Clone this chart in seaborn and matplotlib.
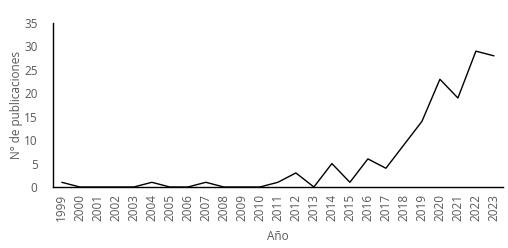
import matplotlib
matplotlib.use("Agg")
import matplotlib.pyplot as plt
import seaborn as sns

# Datos
anios = [str(a) for a in range(1999, 2024)]
publicaciones = [1, 0, 0, 0, 0, 1, 0, 0, 1, 0, 0, 0, 1, 3, 0, 5, 1, 6, 4, 9, 14, 23, 19, 29, 28]
yticks = [0, 5, 10, 15, 20, 25, 30, 35]

sns.set_style("white")
plt.rcParams['font.family'] = ['Open Sans', 'DejaVu Sans']
gris = '#595959'

fig = plt.figure(figsize=(5.08, 2.48), dpi=100)
ax = fig.add_axes([0.104, 0.246, 0.886, 0.661])

sns.lineplot(x=anios, y=publicaciones, color='black', linewidth=1.0, ax=ax)

ax.set_xlim(-0.5, len(anios) - 0.5)
ax.set_ylim(0, 35)
ax.set_yticks(yticks)
ax.tick_params(axis='x', labelrotation=90, labelsize=8.5, colors=gris, length=0, pad=5)
ax.tick_params(axis='y', labelsize=8.5, colors=gris, length=0, pad=11)
for lab in ax.get_xticklabels() + ax.get_yticklabels():
    lab.set_color(gris)

ax.set_xlabel('Año', fontsize=8.5, color=gris, labelpad=6)
ax.set_ylabel('N° de publicaciones', fontsize=8.5, color=gris, labelpad=1)

for lado in ['top', 'right']:
    ax.spines[lado].set_visible(False)
for lado in ['left', 'bottom']:
    ax.spines[lado].set_color('black')
    ax.spines[lado].set_linewidth(1.0)

fig.savefig('out.png', dpi=100)
